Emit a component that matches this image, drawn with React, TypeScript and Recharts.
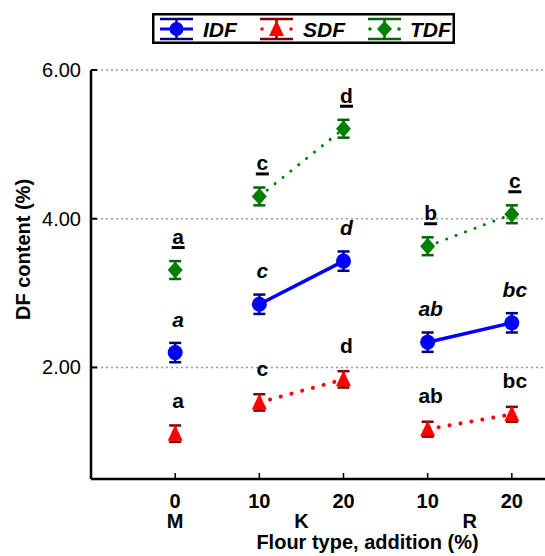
import React from 'react';
import { CartesianGrid, ComposedChart, ErrorBar, LabelList, Line, XAxis, YAxis } from 'recharts';

const positions = [1, 2, 3, 4, 5];
const additions = ['0', '10', '20', '10', '20'];
const flourOfPoint = ['M', 'K', 'K', 'R', 'R'];
const flourTypes = ['M', 'K', 'R'];
const flourTickPos = [1, 2.5, 4.5];

const idfMean = [2.2, 2.85, 3.43, 2.34, 2.6];
const idfSd = [0.13, 0.13, 0.13, 0.13, 0.13];
const sdfMean = [1.11, 1.53, 1.84, 1.17, 1.37];
const sdfSd = [0.11, 0.11, 0.11, 0.1, 0.1];
const tdfMean = [3.31, 4.3, 5.21, 3.63, 4.06];
const tdfSd = [0.12, 0.12, 0.12, 0.12, 0.12];

const idfLetters = ['a', 'c', 'd', 'ab', 'bc'];
const sdfLetters = ['a', 'c', 'd', 'ab', 'bc'];
const tdfLetters = ['a', 'c', 'd', 'b', 'c'];

const FONT = '"Liberation Sans", Arial, sans-serif';
const BLUE = '#0000FF';
const RED = '#FF0000';
const GREEN = '#008000';

const data = positions.map((x, i) => {
  const grp = flourOfPoint[i];
  return {
    x,
    idf: idfMean[i], idfErr: idfSd[i], idfLab: idfLetters[i],
    sdf: sdfMean[i], sdfErr: sdfSd[i], sdfLab: sdfLetters[i],
    tdf: tdfMean[i], tdfErr: tdfSd[i], tdfLab: tdfLetters[i],
    idfK: grp === 'K' ? idfMean[i] : null,
    idfR: grp === 'R' ? idfMean[i] : null,
    sdfK: grp === 'K' ? sdfMean[i] : null,
    sdfR: grp === 'R' ? sdfMean[i] : null,
    tdfK: grp === 'K' ? tdfMean[i] : null,
    tdfR: grp === 'R' ? tdfMean[i] : null,
  };
});

const circleDot = (p: any) => <circle key={`c${p.index}`} cx={p.cx} cy={p.cy} r={7.5} fill={BLUE} />;
const triDot = (p: any) => (
  <polygon key={`t${p.index}`} points={`${p.cx},${p.cy - 9} ${p.cx - 7.5},${p.cy + 7} ${p.cx + 7.5},${p.cy + 7}`} fill={RED} />
);
const diaDot = (p: any) => (
  <polygon key={`d${p.index}`} points={`${p.cx},${p.cy - 8.5} ${p.cx + 7.5},${p.cy} ${p.cx},${p.cy + 8.5} ${p.cx - 7.5},${p.cy}`} fill={GREEN} />
);

const letter = (style: 'italic' | 'normal' | 'under') => (p: any) => {
  const x = p.x + 3;
  const y = p.y - 26;
  return (
    <g key={`l${style}${p.index}`}>
      <text x={x} y={y} textAnchor="middle" fontFamily={FONT} fontWeight="bold" fontSize={21}
        fontStyle={style === 'italic' ? 'italic' : 'normal'} fill="#000">
        {p.value}
      </text>
      {style === 'under' && <rect x={x - 6.5} y={y + 2} width={13} height={3} fill="#000" />}
    </g>
  );
};

const YTick = (p: any) => (
  <g>
    <line x1={p.x} x2={p.x + 6} y1={p.y} y2={p.y} stroke="#000" strokeWidth={2} />
    <text x={p.x - 10} y={p.y + 7} textAnchor="end" fontFamily={FONT} fontSize={20} fill="#000">
      {Number(p.payload.value).toFixed(2)}
    </text>
  </g>
);

const XTick = (p: any) => (
  <g>
    <line x1={p.x} x2={p.x} y1={p.y} y2={p.y - 6} stroke="#000" strokeWidth={1.5} />
    <text x={p.x} y={p.y + 29} textAnchor="middle" fontFamily={FONT} fontWeight="bold" fontSize={20} fill="#000">
      {additions[p.index]}
    </text>
  </g>
);

const GroupTick = (p: any) => (
  <text x={p.x} y={p.y + 17} textAnchor="middle" fontFamily={FONT} fontWeight="bold" fontSize={20} fill="#000">
    {flourTypes[p.index]}
  </text>
);

const LegendIcon = ({ x, color, capColor, dotted, shape }: any) => {
  const cx = x + 16.5;
  const cy = 16;
  let marker;
  if (shape === 'circle') marker = <circle cx={cx} cy={cy} r={7} fill={color} />;
  else if (shape === 'tri') marker = <polygon points={`${cx},${cy - 9} ${cx - 7.5},${cy + 7} ${cx + 7.5},${cy + 7}`} fill={color} />;
  else marker = <polygon points={`${cx},${cy - 8} ${cx + 7.5},${cy} ${cx},${cy + 8} ${cx - 7.5},${cy}`} fill={color} />;
  return (
    <g>
      {dotted ? (
        <g fill={color}>
          <circle cx={x + 2} cy={cy} r={1.8} />
          <circle cx={x + 31} cy={cy} r={1.8} />
        </g>
      ) : (
        <line x1={x} x2={x + 33} y1={cy} y2={cy} stroke={color} strokeWidth={3} />
      )}
      <line x1={x} x2={x + 33} y1={6} y2={6} stroke={capColor} strokeWidth={2.5} />
      <line x1={x} x2={x + 33} y1={26} y2={26} stroke={capColor} strokeWidth={2.5} />
      <line x1={cx} x2={cx} y1={6} y2={26} stroke={capColor} strokeWidth={2.5} />
      {marker}
    </g>
  );
};

const ChartLegend = () => (
  <svg width={303} height={31} style={{ position: 'absolute', left: 152, top: 13 }}>
    <rect x={1.25} y={1.25} width={300.5} height={28.5} fill="#fff" stroke="#000" strokeWidth={2.5} />
    <LegendIcon x={8} color={BLUE} capColor="#000080" shape="circle" />
    <text x={51} y={24} fontFamily={FONT} fontWeight="bold" fontStyle="italic" fontSize={21}>IDF</text>
    <LegendIcon x={108} color={RED} capColor="#800000" shape="tri" dotted />
    <text x={151} y={24} fontFamily={FONT} fontWeight="bold" fontStyle="italic" fontSize={21}>SDF</text>
    <LegendIcon x={216} color={GREEN} capColor="#006400" shape="dia" dotted />
    <text x={258} y={24} fontFamily={FONT} fontWeight="bold" fontStyle="italic" fontSize={21}>TDF</text>
  </svg>
);

export default function App() {
  return (
    <div style={{ position: 'absolute', left: 0, top: 0, width: 545, height: 556, overflow: 'hidden', background: '#fff' }}>
      <ComposedChart width={620} height={556} data={data} margin={{ top: 70, right: 24, bottom: 0, left: 0 }}>
        <CartesianGrid vertical={false} stroke="#999" strokeDasharray="2 3" strokeWidth={1.5} />
        <XAxis dataKey="x" type="number" domain={[0, 6]} ticks={positions} interval={0} height={32}
          axisLine={{ stroke: '#000', strokeWidth: 2.5 }} tickLine={false} tickSize={0} tickMargin={0} tick={<XTick />} />
        <XAxis xAxisId="group" dataKey="x" type="number" domain={[0, 6]} ticks={flourTickPos} interval={0} height={45}
          axisLine={false} tickLine={false} tickSize={0} tickMargin={0} tick={<GroupTick />}
          label={{
            content: (props: any) => (
              <text x={props.viewBox.x + props.viewBox.width / 2 + 24} y={props.viewBox.y + 38} textAnchor="middle"
                fontFamily={FONT} fontWeight="bold" fontSize={20} fill="#000">
                Flour type, addition (%)
              </text>
            ),
          }} />
        <YAxis type="number" domain={[0.5, 6]} ticks={[2, 4, 6]} interval={0} width={91}
          axisLine={{ stroke: '#000', strokeWidth: 2.5 }} tickLine={false} tickSize={0} tickMargin={0} tick={<YTick />}
          label={{
            content: (props: any) => {
              const cy = props.viewBox.y + props.viewBox.height / 2 - 25;
              return (
                <text x={30} y={cy} transform={`rotate(-90 30 ${cy})`} textAnchor="middle"
                  fontFamily={FONT} fontWeight="bold" fontSize={20} fill="#000">
                  DF content (%)
                </text>
              );
            },
          }} />

        <Line dataKey="idfK" stroke={BLUE} strokeWidth={3.5} dot={false} activeDot={false} isAnimationActive={false} />
        <Line dataKey="idfR" stroke={BLUE} strokeWidth={3.5} dot={false} activeDot={false} isAnimationActive={false} />
        <Line dataKey="sdfK" stroke={RED} strokeWidth={4} strokeDasharray="0.1 11" strokeLinecap="round" dot={false} activeDot={false} isAnimationActive={false} />
        <Line dataKey="sdfR" stroke={RED} strokeWidth={4} strokeDasharray="0.1 11" strokeLinecap="round" dot={false} activeDot={false} isAnimationActive={false} />
        <Line dataKey="tdfK" stroke={GREEN} strokeWidth={3} strokeDasharray="0.1 10" strokeLinecap="round" dot={false} activeDot={false} isAnimationActive={false} />
        <Line dataKey="tdfR" stroke={GREEN} strokeWidth={3} strokeDasharray="0.1 10" strokeLinecap="round" dot={false} activeDot={false} isAnimationActive={false} />

        <Line dataKey="idf" stroke="none" dot={circleDot} activeDot={false} isAnimationActive={false}>
          <ErrorBar dataKey="idfErr" width={6} stroke="#000080" strokeWidth={2.5} direction="y" />
          <LabelList dataKey="idfLab" content={letter('italic')} />
        </Line>
        <Line dataKey="sdf" stroke="none" dot={triDot} activeDot={false} isAnimationActive={false}>
          <ErrorBar dataKey="sdfErr" width={6} stroke="#800000" strokeWidth={2.5} direction="y" />
          <LabelList dataKey="sdfLab" content={letter('normal')} />
        </Line>
        <Line dataKey="tdf" stroke="none" dot={diaDot} activeDot={false} isAnimationActive={false}>
          <ErrorBar dataKey="tdfErr" width={6} stroke="#006400" strokeWidth={2.5} direction="y" />
          <LabelList dataKey="tdfLab" content={letter('under')} />
        </Line>
      </ComposedChart>
      <ChartLegend />
    </div>
  );
}
